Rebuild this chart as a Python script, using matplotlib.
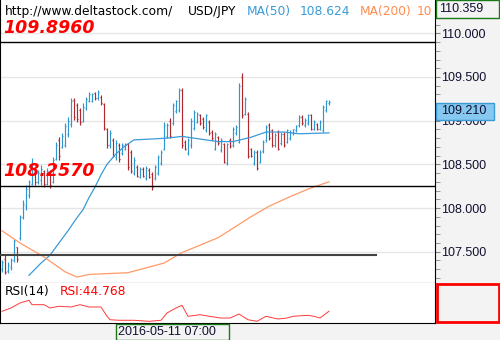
import numpy as np
import matplotlib.pyplot as plt
from matplotlib.patches import Rectangle

# OHLC bars (USD/JPY)
o = [107.30, 107.42, 107.28, 107.33, 107.40, 107.55, 107.66, 107.90, 108.02, 108.15,
     108.28, 108.44, 108.30, 108.32, 108.42, 108.28, 108.41, 108.30, 108.56, 108.78,
     108.70, 108.72, 108.85, 108.96, 109.24, 109.18, 109.12, 109.00, 109.15, 109.23,
     109.23, 109.32, 109.26, 109.27, 109.19, 108.90, 108.72, 108.78, 108.58, 108.72,
     108.63, 108.68, 108.73, 108.64, 108.40, 108.47, 108.36, 108.45, 108.34, 108.44,
     108.39, 108.34, 108.40, 108.51, 108.68, 108.82, 109.00, 108.97, 109.11, 109.12,
     109.35, 108.76, 108.63, 108.72, 108.92, 108.99, 109.06, 109.02, 108.89, 108.99,
     108.87, 108.68, 108.81, 108.66, 108.73, 108.51, 108.78, 108.72, 108.86, 108.76,
     109.50, 109.08, 109.08, 108.67, 108.51, 108.64, 108.53, 108.65, 108.78, 108.95,
     108.89, 108.72, 108.87, 108.74, 108.85, 108.76, 108.80, 108.86, 108.89, 108.95,
     109.04, 108.95, 108.97, 109.06, 108.91, 108.96, 108.91, 108.89, 109.12, 109.20]
h = [107.41, 107.46, 107.38, 107.43, 107.65, 107.55, 107.92, 108.09, 108.26, 108.32,
     108.57, 108.46, 108.44, 108.49, 108.44, 108.46, 108.43, 108.58, 108.76, 108.81,
     108.86, 108.97, 109.04, 109.26, 109.26, 109.20, 109.14, 109.20, 109.27, 109.33,
     109.32, 109.33, 109.35, 109.29, 109.20, 108.92, 108.89, 108.80, 108.78, 108.74,
     108.75, 108.75, 108.75, 108.66, 108.58, 108.49, 108.47, 108.47, 108.48, 108.46,
     108.41, 108.49, 108.61, 108.66, 108.98, 108.97, 109.03, 109.20, 109.24, 109.37,
     109.37, 108.78, 108.80, 109.03, 109.12, 109.10, 109.08, 109.04, 109.08, 109.01,
     108.89, 108.87, 108.83, 108.80, 108.75, 108.75, 108.80, 108.93, 108.95, 109.43,
     109.55, 109.27, 109.10, 108.69, 108.66, 108.66, 108.66, 108.78, 108.95, 108.97,
     108.91, 108.86, 108.89, 108.87, 108.87, 108.91, 108.89, 108.91, 108.95, 109.06,
     109.06, 109.03, 109.08, 109.08, 109.01, 108.97, 109.01, 109.18, 109.24, 109.24]
l = [107.27, 107.24, 107.26, 107.29, 107.38, 107.38, 107.63, 107.88, 107.98, 108.11,
     108.26, 108.26, 108.28, 108.26, 108.24, 108.26, 108.23, 108.29, 108.55, 108.55,
     108.69, 108.70, 108.81, 108.93, 109.01, 108.98, 108.95, 108.98, 109.12, 109.21,
     109.21, 109.24, 109.24, 109.18, 108.89, 108.69, 108.69, 108.58, 108.55, 108.53,
     108.61, 108.66, 108.44, 108.40, 108.38, 108.35, 108.34, 108.35, 108.32, 108.34,
     108.21, 108.32, 108.38, 108.49, 108.66, 108.80, 108.80, 108.95, 109.09, 109.10,
     108.69, 108.66, 108.61, 108.69, 108.89, 108.97, 108.95, 108.91, 108.87, 108.84,
     108.78, 108.66, 108.72, 108.64, 108.51, 108.49, 108.69, 108.70, 108.84, 108.74,
     109.03, 109.06, 108.57, 108.58, 108.49, 108.44, 108.51, 108.63, 108.76, 108.78,
     108.70, 108.70, 108.66, 108.72, 108.70, 108.74, 108.78, 108.84, 108.87, 108.93,
     108.95, 108.93, 108.95, 108.89, 108.89, 108.89, 108.89, 108.87, 109.10, 109.18]
c = [107.38, 107.27, 107.35, 107.40, 107.62, 107.42, 107.90, 108.05, 108.22, 108.30,
     108.50, 108.30, 108.40, 108.45, 108.27, 108.42, 108.26, 108.55, 108.72, 108.60,
     108.82, 108.94, 109.00, 109.22, 109.04, 109.02, 108.98, 109.16, 109.25, 109.30,
     109.30, 109.26, 109.33, 109.20, 108.92, 108.72, 108.86, 108.60, 108.74, 108.56,
     108.72, 108.73, 108.47, 108.42, 108.55, 108.37, 108.45, 108.37, 108.46, 108.36,
     108.24, 108.47, 108.58, 108.64, 108.95, 108.95, 108.83, 109.18, 109.22, 109.35,
     108.72, 108.68, 108.78, 109.00, 109.10, 109.08, 108.97, 108.93, 109.06, 108.86,
     108.80, 108.85, 108.74, 108.78, 108.53, 108.73, 108.71, 108.91, 108.93, 109.40,
     109.06, 109.25, 108.60, 108.60, 108.64, 108.46, 108.64, 108.76, 108.93, 108.80,
     108.72, 108.84, 108.68, 108.85, 108.72, 108.89, 108.87, 108.90, 108.94, 109.04,
     108.97, 109.01, 109.06, 108.91, 108.99, 108.91, 108.99, 109.16, 109.22, 109.21]

# moving averages, sampled at bar indices
ma50_i = [9, 13, 16, 19, 22, 25, 27, 29, 31, 33, 35, 38, 41, 44, 50, 55, 60, 66, 72, 77, 83, 88, 94, 99, 109]
ma50_v = [107.23, 107.37, 107.46, 107.60, 107.74, 107.89, 107.98, 108.12, 108.24, 108.38, 108.50, 108.62,
          108.71, 108.78, 108.79, 108.80, 108.82, 108.79, 108.76, 108.76, 108.81, 108.87, 108.87, 108.85, 108.86]
ma200_i = [0, 6, 14, 21, 25, 29, 42, 54, 60, 72, 83, 89, 96, 103, 109]
ma200_v = [107.74, 107.60, 107.44, 107.27, 107.21, 107.24, 107.26, 107.37, 107.49, 107.66, 107.90,
           108.02, 108.13, 108.23, 108.30]

# RSI(14)
rsi_i = [0, 3, 6, 9, 10, 14, 16, 19, 23, 26, 29, 33, 35, 36, 39, 44, 49, 53, 55, 58, 60, 62, 66,
         69, 73, 76, 79, 82, 85, 88, 92, 95, 97, 102, 104, 106, 109]
rsi_v = [44.6, 48.8, 55.0, 58.4, 52.9, 52.9, 48.8, 50.9, 50.0, 52.9, 50.0, 50.0, 38.4, 34.1, 33.4,
         33.4, 32.1, 33.4, 42.5, 48.8, 52.1, 38.4, 40.4, 38.4, 36.2, 36.2, 41.2, 34.1, 32.1, 38.4,
         35.0, 36.2, 38.4, 39.6, 38.4, 36.2, 44.77]

levels = [109.896, 108.257]
support = 107.466
yticks = [107.5, 108.0, 108.5, 109.0, 109.5, 110.0]

W, H = 500, 340
def fx(x): return x / W
def fy(y): return 1 - y / H
def bx(x): return x / 3 - 2 / 3   # pixel column -> bar index

BLUE = '#2f96d0'
RED = '#b0282c'

plt.rcParams['font.family'] = ['Liberation Sans', 'DejaVu Sans']
fig = plt.figure(figsize=(5, 3.4), dpi=100, facecolor='#f3f3f3')

ax = fig.add_axes([0, fy(283), fx(435), 283 / H])
ax.set_facecolor('white')
ax.set_xlim(-2 / 3, 433 / 3)
ax.set_ylim(107.142, 110.381)

for y in yticks:
    ax.axhline(y, color='#e6e6e6', lw=1, zorder=0)

idx = np.arange(len(c))
cols = [BLUE if c[i] >= o[i] else RED for i in idx]
ax.vlines(idx, l, h, colors=cols, lw=0.85, zorder=3)
ax.hlines(o, idx - 0.45, idx, colors=cols, lw=0.85, zorder=3)
ax.hlines(c, idx, idx + 0.45, colors=cols, lw=0.85, zorder=3)

ax.plot(ma50_i, ma50_v, color='#3a9ad9', lw=0.9, zorder=4)
ax.plot(ma200_i, ma200_v, color='#ff9a66', lw=0.9, zorder=4)

for lv in levels:
    ax.axhline(lv, color='black', lw=1, zorder=5)
ax.axhline(support, xmin=0, xmax=376 / 435, color='#444444', lw=1.5, zorder=5)

for lv, s in zip(levels, ['109.8960', '108.2570']):
    ax.text(bx(3), lv + 0.065, s, color='red', fontsize=12.5, fontweight='bold',
            fontstyle='italic', family='DejaVu Sans', va='bottom', ha='left', zorder=6)

ax.spines['top'].set_visible(False)
for sp in ['left', 'right', 'bottom']:
    ax.spines[sp].set_color('black')
ax.set_xticks([])
ax.yaxis.tick_right()
ax.set_yticks(yticks)
ax.set_yticks(np.arange(107.2, 110.35, 0.1), minor=True)
ax.set_yticklabels(['%.3f' % v for v in yticks])
ax.tick_params(axis='y', which='both', length=3.5, color='#888888', direction='out',
               labelsize=9, labelcolor='#101030', pad=1)

# header
hdr = [(5, 'http://www.deltastock.com/', 'black'), (188, 'USD/JPY', 'black'),
       (247, 'MA(50)', '#3a9ad9'), (300, '108.624', '#3a9ad9'),
       (360, 'MA(200)', '#ff8c4f'), (417, '10', '#ff8c4f')]
for x, s, col in hdr:
    ax.text(bx(x), 110.381 - 0.055, s, color=col, fontsize=8.8, family='DejaVu Sans',
            va='top', ha='left', zorder=7)

# RSI panel
rx = fig.add_axes([0, fy(323), fx(435), 40 / H])
rx.set_facecolor('white')
rx.set_xlim(-2 / 3, 433 / 3)
rx.set_ylim(30, 80)
rx.plot(rsi_i, rsi_v, color='#ff3b3b', lw=0.7)
rx.set_xticks([])
rx.set_yticks([])
rx.spines['top'].set_visible(False)
rx.text(bx(5), 78, 'RSI(14)', color='black', fontsize=8.8, family='DejaVu Sans', va='top')
rx.text(bx(60), 78, 'RSI:44.768', color='red', fontsize=8.8, family='DejaVu Sans', va='top')

# right column boxes
fig.add_artist(Rectangle((fx(436), fy(18)), fx(63), 18 / H, transform=fig.transFigure,
                         facecolor='#f3f3f3', edgecolor='#1a7a1a', lw=1))
fig.text(fx(439), fy(9), '110.359', fontsize=9, va='center', ha='left', color='#101030')
fig.add_artist(Rectangle((fx(436), fy(120)), fx(58), 17 / H, transform=fig.transFigure,
                         facecolor='#86c8ef', edgecolor='#3d9bd3', lw=1))
fig.text(fx(441), fy(111.5), '109.210', fontsize=9, va='center', ha='left', color='#101030')
fig.add_artist(Rectangle((fx(436.5), fy(322)), fx(62), 38 / H, transform=fig.transFigure,
                         facecolor='none', edgecolor='red', lw=2))

# time axis label
fig.add_artist(Rectangle((fx(116), fy(340)), fx(113), 16 / H, transform=fig.transFigure,
                         facecolor='#f3f3f3', edgecolor='#1a7a1a', lw=1))
fig.text(fx(118), fy(332), '2016-05-11 07:00', fontsize=9, va='center', ha='left', color='#101030')

fig.savefig('out.png', dpi=100, facecolor=fig.get_facecolor())
